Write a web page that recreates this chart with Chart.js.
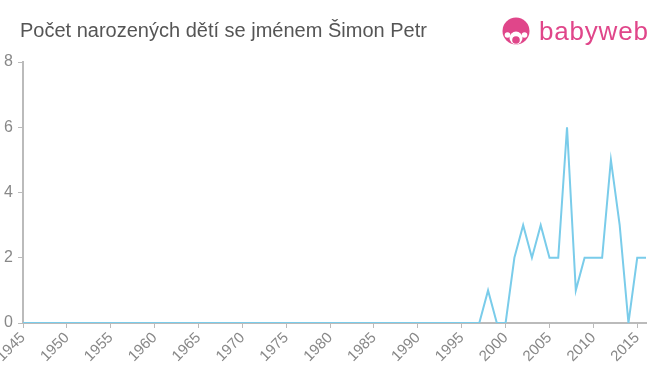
<!DOCTYPE html>
<html>
<head>
<meta charset="utf-8">
<script src="https://cdn.jsdelivr.net/npm/chart.js@4/dist/chart.umd.min.js"></script>
<style>
  body { margin: 0; background: #fff; font-family: "Liberation Sans", Arial, sans-serif; }
  #wrap { position: relative; width: 660px; height: 375px; }
  #title { position: absolute; left: 20px; top: 19px; font-size: 20px; color: #555; white-space: nowrap; }
  #logo { position: absolute; left: 501px; top: 16px; display: flex; align-items: center; }
  #logo span { font-size: 26px; color: #e0468a; margin-left: 8px; letter-spacing: 0.8px; }
  canvas { position: absolute; left: 0; top: 0; }
</style>
</head>
<body>
<div id="wrap">
  <canvas id="chart" width="660" height="375"></canvas>
  <div id="title">Počet narozených dětí se jménem Šimon Petr</div>
  <div id="logo">
    <svg width="30" height="30" viewBox="0 0 30 30">
      <circle cx="15" cy="14" r="13.5" fill="#e0468a"/>
      <circle cx="15" cy="21" r="6.5" fill="#fff"/>
      <circle cx="15" cy="23" r="3.8" fill="#e0468a"/>
      <circle cx="6.5" cy="18" r="2.8" fill="#fff"/>
      <circle cx="23.5" cy="18" r="2.8" fill="#fff"/>
    </svg>
    <span>babyweb</span>
  </div>
</div>
<script>
// roky a počty
let roky = [];
for (let r = 1945; r <= 2016; r++) roky.push(r);

let pocty = [
  0,0,0,0,0, 0,0,0,0,0, 0,0,0,0,0, 0,0,0,0,0,   // 1945-1964
  0,0,0,0,0, 0,0,0,0,0, 0,0,0,0,0, 0,0,0,0,0,   // 1965-1984
  0,0,0,0,0, 0,0,0,0,0, 0,0,0,                  // 1985-1997
  1,0,0,2,3,2,3,2,2,6,1,2,2,2,5,3,0,2,2          // 1998-2016
];

let yTicks = [0, 2, 4, 6, 8];

let body = roky.map((r, i) => ({ x: r, y: pocty[i] }));

let sedaOsa = '#bbbbbb';
let sedyText = '#888888';

new Chart(document.getElementById('chart').getContext('2d'), {
  type: 'line',
  data: {
    datasets: [{
      data: body,
      borderColor: '#7accea',
      borderWidth: 2,
      pointRadius: 0,
      tension: 0,
      fill: false
    }]
  },
  options: {
    responsive: false,
    animation: false,
    layout: { padding: { top: 62, right: 14, left: 0, bottom: 0 } },
    plugins: { legend: { display: false }, tooltip: { enabled: false } },
    scales: {
      x: {
        type: 'linear',
        min: 1945,
        max: 2016,
        afterBuildTicks: (axis) => {
          axis.ticks = [];
          for (let r = 1945; r <= 2015; r += 5) axis.ticks.push({ value: r });
        },
        afterFit: (axis) => {
          axis.height = 52;
          axis.paddingLeft = 0; axis.paddingRight = 0;
        },
        grid: { drawOnChartArea: false, color: sedaOsa, tickLength: 5 },
        border: { color: sedaOsa, width: 2 },
        ticks: {
          color: sedyText,
          font: { size: 15, family: '"Liberation Sans", Arial, sans-serif' },
          maxRotation: 45, minRotation: 45,
          autoSkip: false,
          padding: 1,
          callback: (v) => String(v)
        }
      },
      y: {
        min: 0,
        max: 8,
        afterBuildTicks: (axis) => { axis.ticks = yTicks.map(v => ({ value: v })); },
        afterFit: (axis) => {
          axis.width = 23;
          axis.paddingTop = 0; axis.paddingBottom = 0;
        },
        grid: { drawOnChartArea: false, color: sedaOsa, tickLength: 5 },
        border: { color: sedaOsa, width: 2 },
        ticks: {
          color: sedyText,
          font: { size: 16, family: '"Liberation Sans", Arial, sans-serif' },
          padding: 5
        }
      }
    }
  }
});
</script>
</body>
</html>
